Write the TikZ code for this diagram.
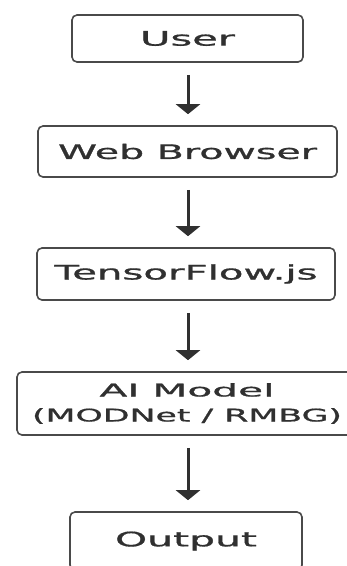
\documentclass[tikz,border=0pt]{standalone}
\usepackage{fontspec}
\setmainfont{DejaVu Sans}[FakeBold=0.8]
\usepackage{graphicx}
\usetikzlibrary{arrows.meta}
\definecolor{ink}{HTML}{303030}
\definecolor{edge}{HTML}{4A4A4A}
\newcommand{\wtext}[2]{\resizebox{#1}{\height}{#2}}
\begin{document}
\begin{tikzpicture}[x=1pt,y=-1pt,
  box/.style={draw=edge, line width=1.6pt, rounded corners=5pt, text=ink,
    inner sep=0pt, align=center, font=\fontsize{20}{24}\selectfont},
  flow/.style={draw=ink, line width=3pt, -{Triangle[width=24pt,length=10pt]},
    shorten <=12pt, shorten >=11pt}]
\useasboundingbox (0,0) rectangle (347,566);
\coordinate (ax) at (188,0);
\node[box, minimum width=231pt, minimum height=47pt] (user) at (187.5,38.5)
  {\wtext{95pt}{User}};
\node[box, minimum width=299pt, minimum height=51pt] (web) at (187.5,151.5)
  {\wtext{259pt}{Web Browser}};
\node[box, minimum width=298pt, minimum height=52pt] (tf) at (186,274)
  {\wtext{263pt}{TensorFlow.js}};
\node[box, minimum width=340pt, minimum height=63pt,
  font=\fontsize{17.5}{25}\selectfont] (ai) at (187,403.5)
  {\wtext{175pt}{AI Model}\\\wtext{310pt}{(MODNet / RMBG)}};
\node[box, minimum width=232pt, minimum height=58pt] (out) at (186,541)
  {\wtext{142pt}{Output}};
\draw[flow] (user.south -| ax) -- (web.north -| ax);
\draw[flow] (web.south -| ax) -- (tf.north -| ax);
\draw[flow] (tf.south -| ax) -- (ai.north -| ax);
\draw[flow] (ai.south -| ax) -- (out.north -| ax);
\end{tikzpicture}
\end{document}
